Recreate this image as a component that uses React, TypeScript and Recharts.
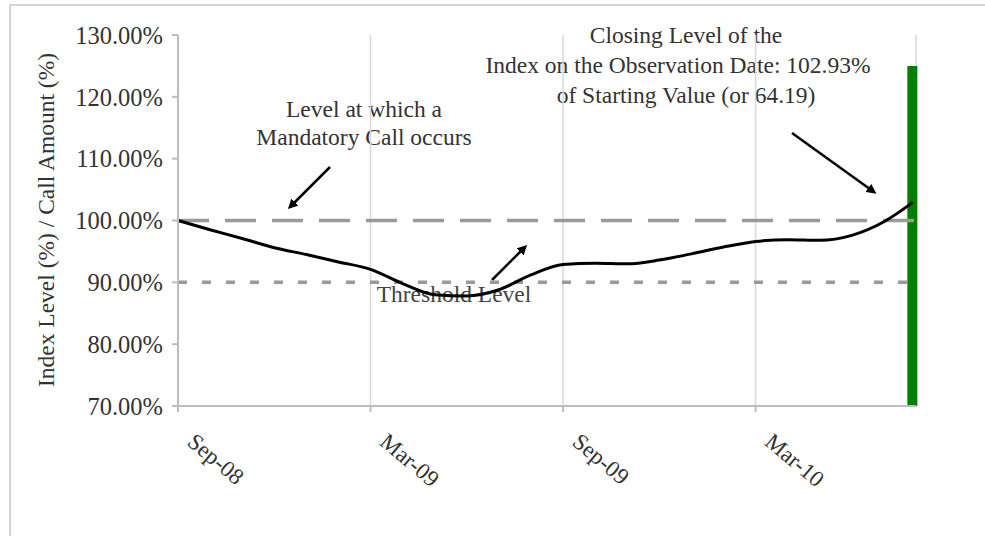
import React from "react";
import {
  ComposedChart,
  Line,
  Bar,
  XAxis,
  YAxis,
  CartesianGrid,
  ReferenceLine,
} from "recharts";

// months since Sep-08 (last point is the observation date, late Jul-10)
const months = [0, 1, 2, 3, 4, 5, 6, 7, 8, 9, 10, 11, 12, 13, 14, 15, 16, 17, 18, 19, 20, 21, 22, 22.9];
const indexLevel = [
  100.0, 98.5, 97.1, 95.6, 94.5, 93.3, 92.1, 89.8, 88.0, 87.8, 88.8, 91.2,
  92.9, 93.1, 93.0, 93.6, 94.6, 95.7, 96.6, 96.9, 96.8, 97.6, 99.8, 102.93,
];
const observationMonth = 22.9;
const callAmount = 125;
const mandatoryCallLevel = 100;
const thresholdLevel = 90;

const tickMonths = [0, 6, 12, 18];
const tickLabels = ["Sep-08", "Mar-09", "Sep-09", "Mar-10"];
const yTicks = [70, 80, 90, 100, 110, 120, 130];

const data = months.map((m, i) => ({
  month: m,
  level: indexLevel[i],
  call: m === observationMonth ? [70, callAmount] : null,
}));

const FONT = "'Liberation Serif', 'Times New Roman', serif";
const TEXT = "#333";

function MonthTick(props: any) {
  const { x, y, payload } = props;
  const i = tickMonths.indexOf(payload.value);
  return (
    <text
      transform={`translate(${x + 8},${y + 30}) rotate(40)`}
      fontFamily={FONT}
      fontSize={23}
      fill={TEXT}
      textAnchor="start"
    >
      {tickLabels[i]}
    </text>
  );
}

function Annotations() {
  return (
    <svg
      width={985}
      height={536}
      style={{ position: "absolute", left: 0, top: 0 }}
      fontFamily={FONT}
      fontSize={23.5}
    >
      <defs>
        <marker id="head" markerWidth="10" markerHeight="10" refX="7" refY="5" orient="auto" markerUnits="userSpaceOnUse">
          <path d="M0,0 L10,5 L0,10 z" fill="#000" />
        </marker>
      </defs>
      <text x={54} y={220} fill={TEXT} fontSize={23.5} textAnchor="middle" transform="rotate(-90, 54, 220)">
        Index Level (%) / Call Amount (%)
      </text>
      <g fill={TEXT} textAnchor="middle">
        <text x={364} y={117}>Level at which a</text>
        <text x={364} y={145}>Mandatory Call occurs</text>
        <text x={454} y={302} fill="#444">Threshold Level</text>
        <text x={686} y={43}>Closing Level of the</text>
        <text x={678} y={73}>Index on the Observation Date: 102.93%</text>
        <text x={686} y={103}>of Starting Value (or 64.19)</text>
      </g>
      <g stroke="#000" strokeWidth={2.5}>
        <line x1={330} y1={167} x2={290} y2={207} markerEnd="url(#head)" />
        <line x1={492} y1={280} x2={525} y2={247} markerEnd="url(#head)" />
        <line x1={792} y1={133} x2={874} y2={192} markerEnd="url(#head)" />
      </g>
    </svg>
  );
}

export default function App() {
  return (
    <div style={{ position: "absolute", left: 0, top: 0, width: 985, height: 536, background: "#fff" }}>
      <div
        style={{
          position: "absolute",
          left: 9,
          top: 4,
          right: 0,
          bottom: 0,
          borderTop: "2px solid #d4d4d4",
          borderLeft: "2px solid #d4d4d4",
        }}
      />
      <Annotations />
      <div style={{ position: "absolute", left: 0, top: 0 }}>
        <ComposedChart
          width={985}
          height={536}
          data={data}
          margin={{ top: 35, right: 69, bottom: 30, left: 0 }}
        >
          <CartesianGrid horizontal={false} stroke="#d8d8d8" strokeWidth={1.5} />
          <XAxis
            dataKey="month"
            type="number"
            domain={[0, 23]}
            ticks={tickMonths}
            height={100}
            tick={<MonthTick />}
            tickSize={6}
            stroke="#bdbdbd"
            strokeWidth={2}
          />
          <YAxis
            domain={[70, 130]}
            ticks={yTicks}
            width={178}
            tickSize={6}
            tickMargin={9}
            stroke="#bdbdbd"
            strokeWidth={2}
            tick={{ fontFamily: FONT, fontSize: 24.5, fill: TEXT }}
            tickFormatter={(v: number) => `${v.toFixed(2)}%`}
          />
          <ReferenceLine y={mandatoryCallLevel} stroke="#999" strokeWidth={3.5} strokeDasharray="31 16" />
          <ReferenceLine y={thresholdLevel} stroke="#999" strokeWidth={3.5} strokeDasharray="9 15" />
          <Line
            dataKey="level"
            type="monotone"
            stroke="#000"
            strokeWidth={3}
            dot={false}
            isAnimationActive={false}
          />
          <Bar dataKey="call" fill="#008000" barSize={10} isAnimationActive={false} />
        </ComposedChart>
      </div>
    </div>
  );
}
